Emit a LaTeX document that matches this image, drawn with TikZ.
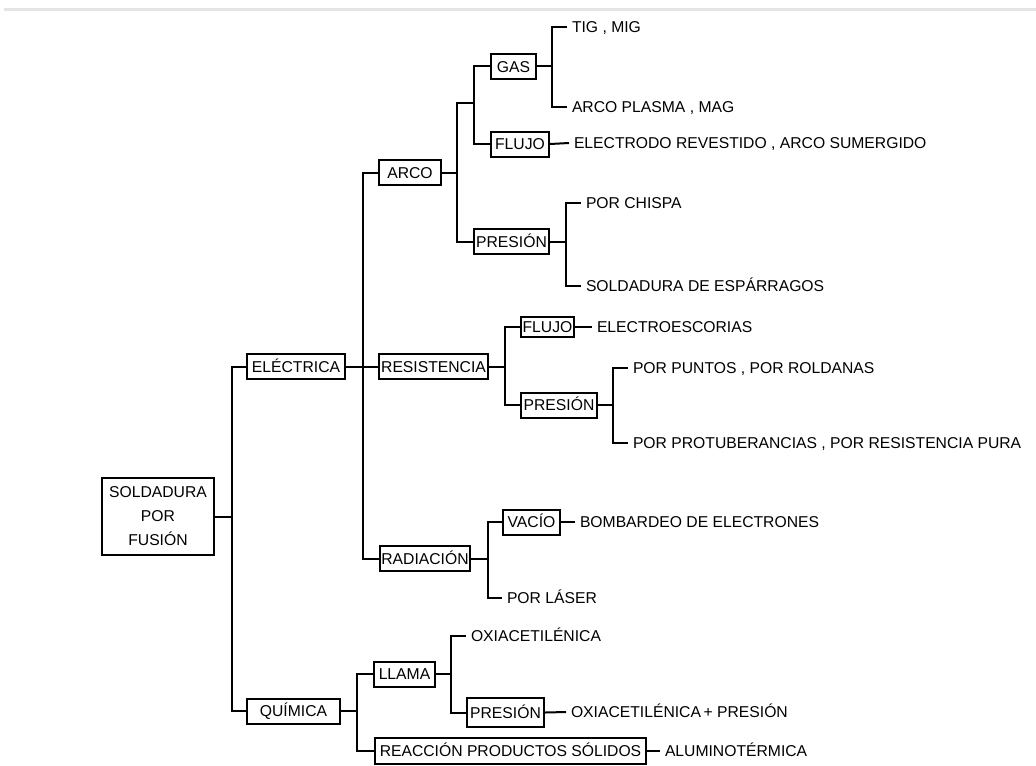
\documentclass[tikz,border=0pt]{standalone}
\usepackage{fontspec}
\setmainfont{Liberation Sans}
\begin{document}
\begin{tikzpicture}[x=0.5pt, y=-0.5pt, line width=1pt,
  txt/.style={font=\fontsize{7.85}{12}\selectfont},
  box/.style={txt, draw, line width=1pt, inner sep=0pt, minimum height=12.5pt,
    text height=5.6pt, text depth=0pt},
  leaf/.style={txt, anchor=west, inner xsep=2pt, inner ysep=0pt,
    text height=5.6pt, text depth=0pt}]

  \useasboundingbox (0,0) rectangle (1036,765);

  % faint rule along the top edge
  \draw[black!10, line width=1.5pt] (4,9.5) -- (1036,9.5);

  % ---- Root and first level ----
  \node[box, align=center, minimum width=56pt, minimum height=38.5pt,
    text height=, text depth=] (root) at (158,516.5) {SOLDADURA\\POR\\FUSIÓN};
  \node[box, minimum width=49pt]   (elec) at (296,366.5) {ELÉCTRICA};
  \node[box, minimum width=46.5pt] (quim) at (293.5,711) {QUÍMICA};
  \coordinate (jroot) at (232,516.5);

  % ---- Eléctrica: arco, resistencia, radiación ----
  \node[box, minimum width=31pt]   (arco) at (410,172.5) {ARCO};
  \node[box, minimum width=54.5pt] (res)  at (433.5,366.5) {RESISTENCIA};
  \node[box, minimum width=45pt]   (rad)  at (425,558.5) {RADIACIÓN};
  \coordinate (jelec) at (363,366.5);

  % ---- Arco ----
  \coordinate (jarco)  at (457,172.5);
  \coordinate (jarco2) at (474,103);
  \node[box, minimum width=22.5pt] (gas)    at (513.5,66.5) {GAS};
  \node[box, minimum width=29pt]   (flujoa) at (520,144) {FLUJO};
  \node[box, minimum width=37.5pt] (presa)  at (511.5,241.5) {PRESIÓN};
  \coordinate (jgas)   at (552,66.5);
  \coordinate (jpresa) at (566,241.5);
  \node[leaf] (tig)    at (567,27)  {TIG , MIG};
  \node[leaf] (plasma) at (567,107) {ARCO PLASMA , MAG};
  \node[leaf] (electr) at (569,143) {ELECTRODO REVESTIDO , ARCO SUMERGIDO};
  \node[leaf] (chispa) at (581,203) {POR CHISPA};
  \node[leaf] (espar)  at (581,286) {SOLDADURA DE ESPÁRRAGOS};

  % ---- Resistencia ----
  \coordinate (jres) at (505,366.5);
  \node[box, minimum width=26.5pt, minimum height=10pt] (flujob) at (547.5,327) {FLUJO};
  \node[box, minimum width=38pt] (presb) at (559,405) {PRESIÓN};
  \coordinate (jpresb) at (613,405);
  \node[leaf] (escor)  at (592,327) {ELECTROESCORIAS};
  \node[leaf] (puntos) at (628,368) {POR PUNTOS , POR ROLDANAS};
  \node[leaf] (protub) at (628,443) {POR PROTUBERANCIAS , POR RESISTENCIA PURA};

  % ---- Radiación ----
  \coordinate (jrad) at (488,558.5);
  \node[box, minimum width=28.5pt] (vacio) at (531.5,522) {VACÍO};
  \node[leaf] (bomb)  at (575,522) {BOMBARDEO DE ELECTRONES};
  \node[leaf] (laser) at (502,598) {POR LÁSER};

  % ---- Química ----
  \coordinate (jquim) at (357,711);
  \node[box, minimum width=30.5pt] (llama) at (404.5,674) {LLAMA};
  \node[box, minimum width=135.5pt, minimum height=13pt] (reac) at (510.5,751)
    {REACCIÓN PRODUCTOS SÓLIDOS};
  \coordinate (jllama) at (451,674);
  \node[box, minimum width=38.5pt, minimum height=14.5pt] (presc) at (505.5,712.5) {PRESIÓN};
  \node[leaf] (oxi)    at (466,636) {OXIACETILÉNICA};
  \node[leaf] (oxipr)  at (566,712) {OXIACETILÉNICA\,+ PRESIÓN};
  \node[leaf] (alumin) at (660,751) {ALUMINOTÉRMICA};

  % ---- Connectors ----
  \draw (root.east) -- (jroot);
  \draw (jroot) |- (elec.west);
  \draw (jroot) |- (quim.west);

  \draw (elec.east) -- (jelec);
  \draw (jelec) |- (arco.west);
  \draw (jelec) |- (res.west);
  \draw (jelec) |- (rad.west);

  \draw (arco.east) -- (jarco);
  \draw (jarco) |- (jarco2);
  \draw (jarco) |- (presa.west);
  \draw (jarco2) |- (gas.west);
  \draw (jarco2) |- (flujoa.west);
  \draw (gas.east) -- (jgas);
  \draw (jgas) |- (tig.west);
  \draw (jgas) |- (plasma.west);
  \draw (flujoa.east) -- (electr.west);
  \draw (presa.east) -- (jpresa);
  \draw (jpresa) |- (chispa.west);
  \draw (jpresa) |- (espar.west);

  \draw (res.east) -- (jres);
  \draw (jres) |- (flujob.west);
  \draw (jres) |- (presb.west);
  \draw (flujob.east) -- (escor.west);
  \draw (presb.east) -- (jpresb);
  \draw (jpresb) |- (puntos.west);
  \draw (jpresb) |- (protub.west);

  \draw (rad.east) -- (jrad);
  \draw (jrad) |- (vacio.west);
  \draw (jrad) |- (laser.west);
  \draw (vacio.east) -- (bomb.west);

  \draw (quim.east) -- (jquim);
  \draw (jquim) |- (llama.west);
  \draw (jquim) |- (reac.west);
  \draw (llama.east) -- (jllama);
  \draw (jllama) |- (oxi.west);
  \draw (jllama) |- (presc.west);
  \draw (presc.east) -- (oxipr.west);
  \draw (reac.east) -- (alumin.west);

\end{tikzpicture}
\end{document}
